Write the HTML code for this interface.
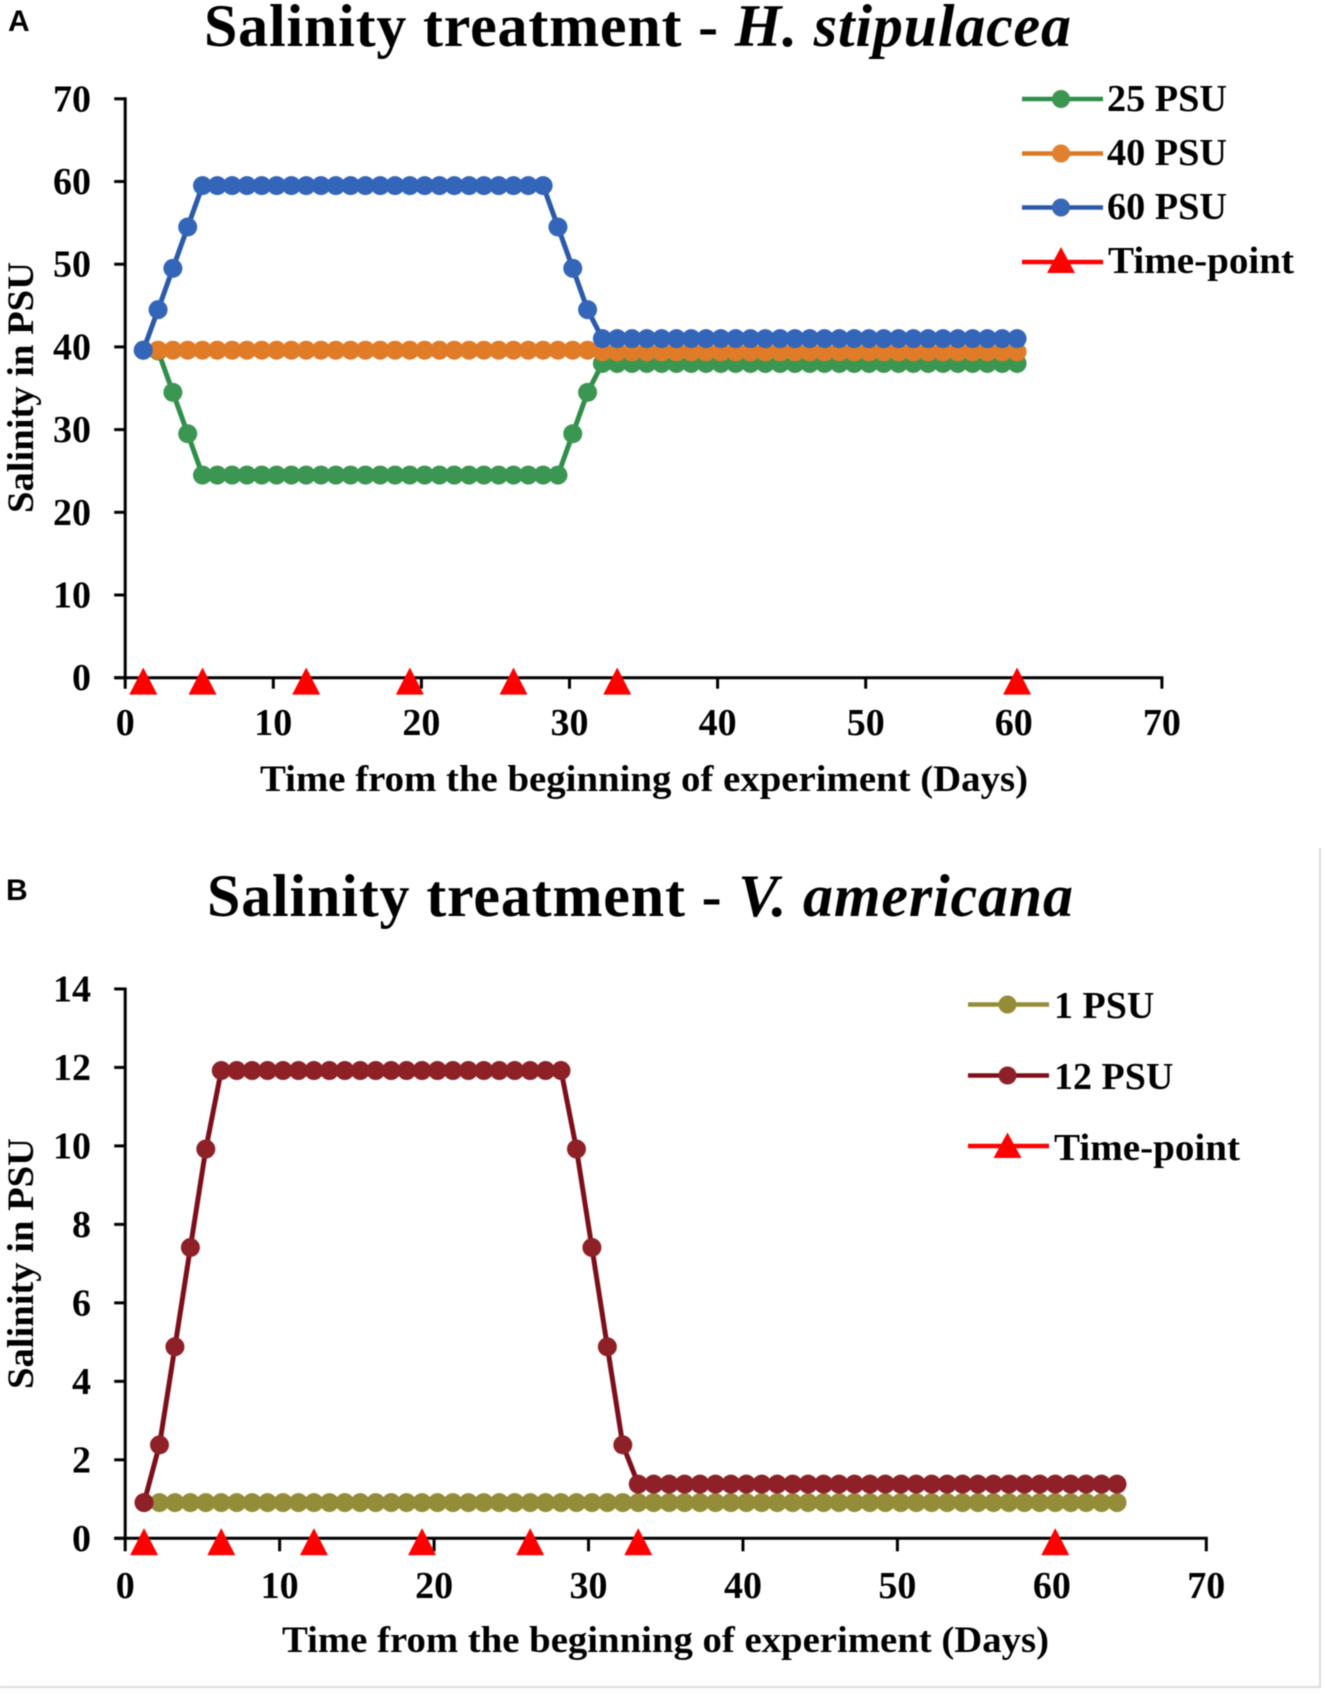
<!DOCTYPE html>
<html lang="en">
<head>
<meta charset="utf-8">
<title>Salinity treatment charts</title>
<style>
html,body{margin:0;padding:0;background:#fff;overflow:hidden;}
svg{display:block;filter:blur(0.5px);}
text{font-family:"Liberation Serif",serif;font-weight:bold;fill:#000;}
.panel{font-family:"Liberation Sans",sans-serif;font-size:30px;}
</style>
</head>
<body>
<svg id="root" xmlns="http://www.w3.org/2000/svg" width="1326" height="1695" viewBox="0 0 1326 1695">
  <rect x="0" y="0" width="1326" height="1695" fill="#fff"/>
  <path d="M1320 848V1687H0" fill="none" stroke="#dcdcdc" stroke-width="2"/>

  <text class="panel" x="8" y="31">A</text>
  <text x="204" y="46" font-size="60" textLength="867">Salinity treatment - <tspan font-style="italic">H. stipulacea</tspan></text>
  <text transform="translate(33,513) rotate(-90)" font-size="37" textLength="251" lengthAdjust="spacingAndGlyphs">Salinity in PSU</text>
  <text x="260" y="791" font-size="37" textLength="768" lengthAdjust="spacingAndGlyphs">Time from the beginning of experiment (Days)</text>

  <text class="panel" x="6" y="900">B</text>
  <text x="207" y="916" font-size="60" textLength="866">Salinity treatment - <tspan font-style="italic">V. americana</tspan></text>
  <text transform="translate(33,1389) rotate(-90)" font-size="37" textLength="251" lengthAdjust="spacingAndGlyphs">Salinity in PSU</text>
  <text x="282" y="1652" font-size="37" textLength="767" lengthAdjust="spacingAndGlyphs">Time from the beginning of experiment (Days)</text>

  <g id="chart-a"></g>
  <g id="chart-b"></g>

  <g font-size="38">
    <g>
      <line x1="1022" y1="99" x2="1103" y2="99" stroke="#2f8f4a" stroke-width="4.5"/>
      <circle cx="1061" cy="99" r="9" fill="#3c9650"/>
      <text x="1107" y="111" textLength="120" lengthAdjust="spacingAndGlyphs">25 PSU</text>
    </g>
    <g>
      <line x1="1022" y1="153.5" x2="1103" y2="153.5" stroke="#dd7722" stroke-width="4.5"/>
      <circle cx="1061" cy="153.5" r="9" fill="#e08030"/>
      <text x="1107" y="165" textLength="120" lengthAdjust="spacingAndGlyphs">40 PSU</text>
    </g>
    <g>
      <line x1="1022" y1="207.5" x2="1103" y2="207.5" stroke="#2a5aa8" stroke-width="4.5"/>
      <circle cx="1061" cy="207.5" r="9" fill="#3a68b8"/>
      <text x="1107" y="219" textLength="120" lengthAdjust="spacingAndGlyphs">60 PSU</text>
    </g>
    <g>
      <line x1="1022" y1="262" x2="1103" y2="262" stroke="#ff0000" stroke-width="4.5"/>
      <path d="M1061 247L1075 273H1047Z" fill="#ff0000"/>
      <text x="1108" y="273" textLength="186" lengthAdjust="spacingAndGlyphs">Time-point</text>
    </g>
  </g>

  <g font-size="38">
    <g>
      <line x1="968" y1="1004.5" x2="1049" y2="1004.5" stroke="#948c38" stroke-width="4.5"/>
      <circle cx="1007.5" cy="1004.5" r="9" fill="#948c38"/>
      <text x="1054" y="1018">1 PSU</text>
    </g>
    <g>
      <line x1="968" y1="1075.5" x2="1049" y2="1075.5" stroke="#7d0f1b" stroke-width="4.5"/>
      <circle cx="1007.5" cy="1075.5" r="9" fill="#8e2028"/>
      <text x="1054" y="1089">12 PSU</text>
    </g>
    <g>
      <line x1="968" y1="1146" x2="1049" y2="1146" stroke="#ff0000" stroke-width="4.5"/>
      <path d="M1007.5 1132.5L1021.5 1158H993.5Z" fill="#ff0000"/>
      <text x="1054" y="1160" textLength="186" lengthAdjust="spacingAndGlyphs">Time-point</text>
    </g>
  </g>
</svg>

<script>
var xTickLabels = [0, 10, 20, 30, 40, 50, 60, 70];
var yTickLabelsA = [0, 10, 20, 30, 40, 50, 60, 70];
var yTickLabelsB = [0, 2, 4, 6, 8, 10, 12, 14];

var daysA = [1,2,3,4,5,6,7,8,9,10,11,12,13,14,15,16,17,18,19,20,21,22,23,24,25,26,27,28,29,30,31,32,33,34,35,36,37,38,39,40,41,42,43,44,45,46,47,48,49,50,51,52,53,54,55,56,57,58,59,60];
var psu25 = [39.6,39.5,34.5,29.5,24.5,24.5,24.5,24.5,24.5,24.5,24.5,24.5,24.5,24.5,24.5,24.5,24.5,24.5,24.5,24.5,24.5,24.5,24.5,24.5,24.5,24.5,24.5,24.5,24.5,29.5,34.5,38,38,38,38,38,38,38,38,38,38,38,38,38,38,38,38,38,38,38,38,38,38,38,38,38,38,38,38,38];
var psu40 = [39.6,39.6,39.6,39.6,39.6,39.6,39.6,39.6,39.6,39.6,39.6,39.6,39.6,39.6,39.6,39.6,39.6,39.6,39.6,39.6,39.6,39.6,39.6,39.6,39.6,39.6,39.6,39.6,39.6,39.6,39.6,39.4,39.4,39.4,39.4,39.4,39.4,39.4,39.4,39.4,39.4,39.4,39.4,39.4,39.4,39.4,39.4,39.4,39.4,39.4,39.4,39.4,39.4,39.4,39.4,39.4,39.4,39.4,39.4,39.4];
var psu60 = [39.6,44.5,49.5,54.5,59.5,59.5,59.5,59.5,59.5,59.5,59.5,59.5,59.5,59.5,59.5,59.5,59.5,59.5,59.5,59.5,59.5,59.5,59.5,59.5,59.5,59.5,59.5,59.5,54.5,49.5,44.5,41,41,41,41,41,41,41,41,41,41,41,41,41,41,41,41,41,41,41,41,41,41,41,41,41,41,41,41,41];
var timePointDaysA = [1,5,12,19,26,33,60];
var timePointValuesA = [0,0,0,0,0,0,0];

var daysB = [1,2,3,4,5,6,7,8,9,10,11,12,13,14,15,16,17,18,19,20,21,22,23,24,25,26,27,28,29,30,31,32,33,34,35,36,37,38,39,40,41,42,43,44,45,46,47,48,49,50,51,52,53,54,55,56,57,58,59,60,61,62,63,64];
var psu1 = [0.91,0.91,0.91,0.91,0.91,0.91,0.91,0.91,0.91,0.91,0.91,0.91,0.91,0.91,0.91,0.91,0.91,0.91,0.91,0.91,0.91,0.91,0.91,0.91,0.91,0.91,0.91,0.91,0.91,0.91,0.91,0.91,0.91,0.91,0.91,0.91,0.91,0.91,0.91,0.91,0.91,0.91,0.91,0.91,0.91,0.91,0.91,0.91,0.91,0.91,0.91,0.91,0.91,0.91,0.91,0.91,0.91,0.91,0.91,0.91,0.91,0.91,0.91,0.91];
var psu12 = [0.91,2.38,4.88,7.41,9.92,11.92,11.92,11.92,11.92,11.92,11.92,11.92,11.92,11.92,11.92,11.92,11.92,11.92,11.92,11.92,11.92,11.92,11.92,11.92,11.92,11.92,11.92,11.92,9.92,7.41,4.88,2.38,1.38,1.38,1.38,1.38,1.38,1.38,1.38,1.38,1.38,1.38,1.38,1.38,1.38,1.38,1.38,1.38,1.38,1.38,1.38,1.38,1.38,1.38,1.38,1.38,1.38,1.38,1.38,1.38,1.38,1.38,1.38,1.38];
var timePointDaysB = [1,6,12,19,26,33,60];
var timePointValuesB = [0,0,0,0,0,0,0];

var NS = 'http://www.w3.org/2000/svg';

function make(parent, tag, attrs) {
  var el = document.createElementNS(NS, tag);
  for (var k in attrs) { el.setAttribute(k, attrs[k]); }
  parent.appendChild(el);
  return el;
}

function drawAxes(group, cfg, xLabels, yLabels) {
  var xAxis = make(group, 'line', {x1: cfg.x(0) - 11, y1: cfg.y(0), x2: cfg.x(70) + 1.5, y2: cfg.y(0), stroke: '#000', 'stroke-width': 3});
  
  
  var yAxis = make(group, 'line', {x1: cfg.x(0), y1: cfg.y(yLabels[yLabels.length - 1]) - 1.5, x2: cfg.x(0), y2: cfg.y(0) + cfg.tick, stroke: '#000', 'stroke-width': 3});
  
  
  xLabels.forEach(function (v) {
    if (v > 0) {
      var t = make(group, 'line', {x1: cfg.x(v), y1: cfg.y(0), x2: cfg.x(v), y2: cfg.y(0) + cfg.tick, stroke: '#000', 'stroke-width': 3});
      
      
    }
    var lbl = make(group, 'text', {x: cfg.x(v), y: cfg.xLabelY, 'font-size': 38, 'text-anchor': 'middle'});
    lbl.textContent = v;
    
    
  });
  yLabels.forEach(function (v) {
    var t = make(group, 'line', {x1: cfg.x(0) - 11, y1: cfg.y(v), x2: cfg.x(0), y2: cfg.y(v), stroke: '#000', 'stroke-width': 3});
    
    
    var lbl = make(group, 'text', {x: 91, y: cfg.y(v) + 12.5, 'font-size': 38, 'text-anchor': 'end'});
    lbl.textContent = v;
    
    
  });
}

function drawSeries(group, cfg, name, days, values, lineColor, fillColor) {
  var g = make(group, 'g', {});
  
  
  var pts = days.map(function (d, i) { return cfg.px(d) + ',' + cfg.y(values[i]); }).join(' ');
  var line = make(g, 'polyline', {points: pts, fill: 'none', stroke: lineColor, 'stroke-width': 5});
  
  
  days.forEach(function (d, i) {
    var c = make(g, 'circle', {cx: cfg.px(d), cy: cfg.y(values[i]), r: 9.5, fill: fillColor});
    
    
  });
}

function drawTimePoints(group, cfg, days, values) {
  days.forEach(function (d, i) {
    var x = cfg.px(d), y = cfg.y(values[i]);
    var t = make(group, 'path', {d: 'M' + x + ' ' + (y - 9.6) + 'L' + (x + 13.5) + ' ' + (y + 16.6) + 'H' + (x - 13.5) + 'Z', fill: '#ff0000', stroke: '#ff0000', 'stroke-width': 0.6, 'stroke-linejoin': 'round'});
    
    
  });
}

var cfgA = {
  x: function (d) { return 125.2 + d * 14.81; },
  px: function (d) { return 125.2 + (d + 0.22) * 14.81; },
  y: function (v) { return 677.7 - v * 8.27; },
  tick: 11,
  xLabelY: 735
};
var cfgB = {
  x: function (d) { return 125.2 + d * 15.444; },
  px: function (d) { return 125.2 + (d + 0.22) * 15.444; },
  y: function (v) { return 1538.3 - v * 39.24; },
  tick: 13,
  xLabelY: 1598
};

var groupA = document.getElementById('chart-a');
drawAxes(groupA, cfgA, xTickLabels, yTickLabelsA);
drawSeries(groupA, cfgA, 'series-25-psu', daysA, psu25, '#2f8f4a', '#3a9650');
drawSeries(groupA, cfgA, 'series-40-psu', daysA, psu40, '#dd7722', '#e07b28');
drawSeries(groupA, cfgA, 'series-60-psu', daysA, psu60, '#2a5aa8', '#3366b8');
drawTimePoints(groupA, cfgA, timePointDaysA, timePointValuesA);

var groupB = document.getElementById('chart-b');
drawAxes(groupB, cfgB, xTickLabels, yTickLabelsB);
drawSeries(groupB, cfgB, 'series-1-psu', daysB, psu1, '#948c38', '#948c38');
drawSeries(groupB, cfgB, 'series-12-psu', daysB, psu12, '#7d0f1b', '#8e2028');
drawTimePoints(groupB, cfgB, timePointDaysB, timePointValuesB);
</script>
</body>
</html>
